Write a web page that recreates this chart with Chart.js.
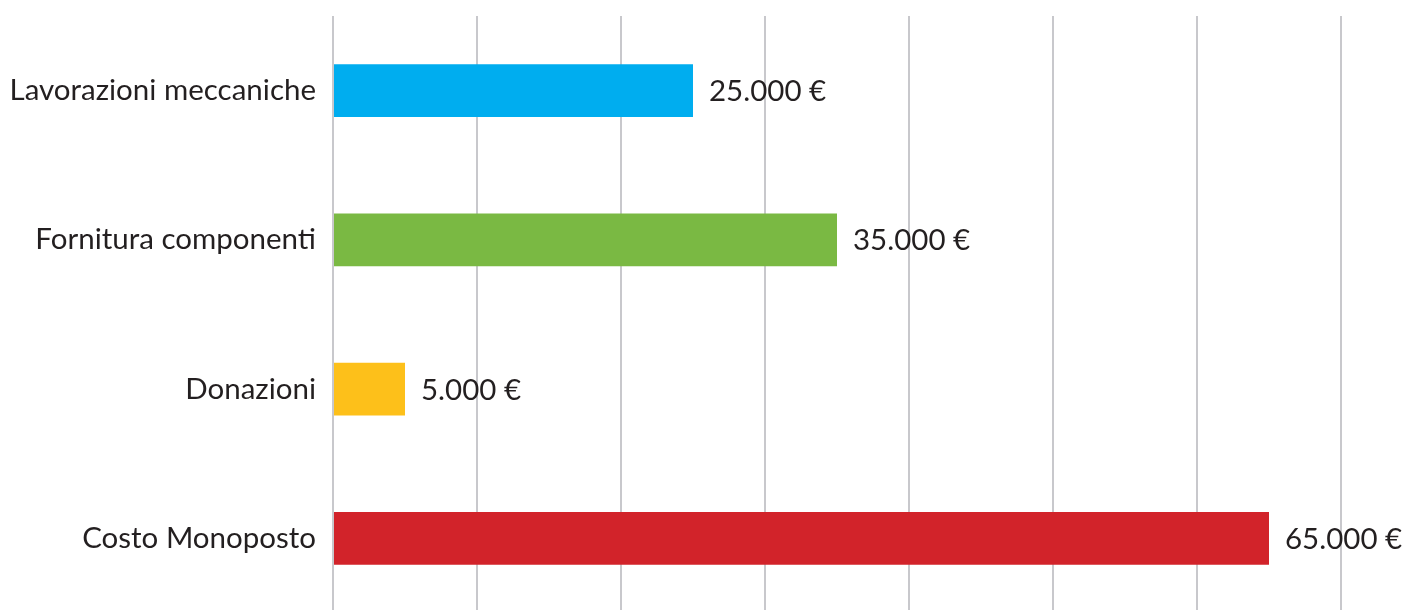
<!DOCTYPE html>
<html>
<head>
<meta charset="utf-8">
<script src="https://cdn.jsdelivr.net/npm/chart.js@4/dist/chart.umd.min.js"></script>
<style>
    html, body { margin: 0; padding: 0; background: #fff; overflow: hidden; }
    #wrap { width: 1407px; height: 613px; position: relative; }
</style>
</head>
<body>
<div id="wrap"><canvas id="costi"></canvas></div>
<script>
const categorie = ['Lavorazioni meccaniche', 'Fornitura componenti', 'Donazioni', 'Costo Monoposto'];
const valori = [25000, 35000, 5000, 65000];
const colori = ['#00adef', '#7ab943', '#fdc01a', '#d2232a'];

const font = "Lato, 'Open Sans', sans-serif";

function formatEuro(v) {
    return v.toLocaleString('de-DE') + ' €';
}

// etichette a destra delle barre
const etichette = {
    id: 'etichette',
    afterDatasetsDraw(chart) {
        const ctx = chart.ctx;
        const meta = chart.getDatasetMeta(0);
        ctx.save();
        ctx.font = '29.5px ' + font;
        ctx.fillStyle = '#231f20';
        ctx.textAlign = 'left';
        ctx.textBaseline = 'middle';
        meta.data.forEach((bar, i) => {
            ctx.fillText(formatEuro(valori[i]), bar.x + 16, bar.y + 1);
        });
        ctx.restore();
    }
};

new Chart(document.getElementById('costi'), {
    type: 'bar',
    data: {
        labels: categorie,
        datasets: [{
            data: valori,
            backgroundColor: colori,
            barPercentage: 0.355,
            categoryPercentage: 1
        }]
    },
    options: {
        indexAxis: 'y',
        maintainAspectRatio: false,
        responsive: true,
        animation: false,
        layout: { padding: { top: 16, right: 66, bottom: 0, left: 0 } },
        plugins: {
            legend: { display: false },
            tooltip: { enabled: false }
        },
        scales: {
            x: {
                min: 0,
                max: 70000,
                afterFit(scale) { scale.height = 0; },
                ticks: { display: false, stepSize: 10000 },
                grid: { color: '#c8c8cc', lineWidth: 2, drawTicks: false },
                border: { display: false }
            },
            y: {
                afterFit(scale) {
                    scale.width = 333;
                    scale.paddingTop = 0;
                    scale.paddingBottom = 0;
                },
                ticks: {
                    color: '#231f20',
                    padding: 17,
                    font: { family: font, size: 29.5 }
                },
                grid: { display: false, drawTicks: false },
                border: { display: false }
            }
        }
    },
    plugins: [etichette]
});
</script>
</body>
</html>
